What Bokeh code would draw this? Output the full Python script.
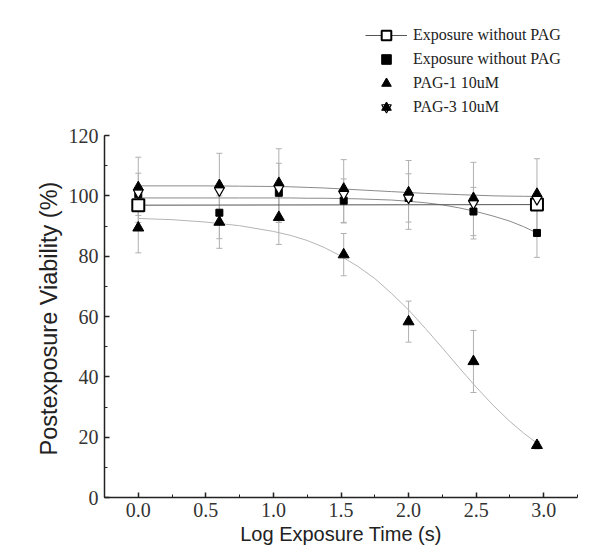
import math
from bokeh.plotting import figure
from bokeh.models import (Range1d, SingleIntervalTicker, PrintfTickFormatter, ColumnDataSource,
                          Whisker, TeeHead, Legend, LegendItem, Title)
from bokeh.embed import file_html
from bokeh.resources import INLINE

# ---- data ----
log_time = [0.0, 0.6, 1.04, 1.52, 2.0, 2.48, 2.95]

open_sq_x = [0.0, 2.95]
open_sq_y = [96.9, 97.1]

sq_y = [100.5, 94.4, 101.0, 98.4, 99.3, 94.8, 87.7]
sq_err = [7.0, 8.6, 9.8, 7.2, 8.0, 8.0, 8.1]

pag1_y = [89.4, 91.3, 92.9, 80.5, 58.3, 45.1, 17.3]
pag1_err = [8.3, 8.7, 9.0, 7.0, 6.8, 10.3, 1.2]

pag3_y = [102.0, 102.7, 103.4, 101.5, 100.3, 98.4, 99.8]
pag3_err = [10.8, 11.4, 12.2, 10.5, 11.4, 12.7, 12.5]

fit_x = [0.0, 0.25, 0.5, 0.75, 1.0, 1.125, 1.25, 1.375, 1.5, 1.625, 1.75, 1.875, 2.0,
         2.125, 2.25, 2.375, 2.5, 2.625, 2.75, 2.85, 2.95]
sq_fit = [99.3, 99.3, 99.3, 99.3, 99.3, 99.3, 99.2, 99.2, 99.1, 99.0, 98.8, 98.6, 98.2,
          97.7, 97.0, 96.0, 94.8, 93.3, 91.6, 89.8, 87.7]
pag1_fit = [92.5, 92.1, 91.3, 90.1, 88.2, 86.9, 85.2, 82.9, 80.0, 76.6, 72.6, 67.6, 62.2,
            56.0, 49.6, 43.0, 36.6, 30.6, 25.2, 21.4, 18.0]
pag3_fit = [103.3, 103.3, 103.3, 103.2, 103.1, 103.0, 102.8, 102.6, 102.3, 102.0, 101.7, 101.4, 101.1,
            100.8, 100.6, 100.4, 100.2, 100.0, 99.9, 99.85, 99.8]

labels = ["Exposure without PAG", "Exposure without PAG", "PAG-1 10uM", "PAG-3 10uM"]
x_title = "Log Exposure Time (s)"
y_title = "Postexposure Viability (%)"
y_axis_max = 120

# ---- figure ----
# the frame extends above the y axis so the legend (drawn inside the frame) is not clipped
AXIS_PX = 362            # pixel length of the 0..120 axis
FW, FH = 473, 477
Y0 = 0
Y1 = y_axis_max * FH / AXIS_PX
p = figure(frame_width=FW, frame_height=FH, x_range=Range1d(-0.25, 3.25), y_range=Range1d(Y0, Y1),
           output_backend="svg", toolbar_location=None,
           min_border_left=104, min_border_right=16, min_border_top=20, min_border_bottom=56)
p.grid.visible = False
p.outline_line_color = None
p.background_fill_color = "white"
p.border_fill_color = "white"

p.xaxis.ticker = SingleIntervalTicker(interval=0.5, num_minor_ticks=2)
p.xaxis.formatter = PrintfTickFormatter(format="%.1f")
p.yaxis.ticker = SingleIntervalTicker(interval=20, num_minor_ticks=2)
p.yaxis.bounds = (0, y_axis_max)
for ax in (p.xaxis, p.yaxis):
    ax.axis_line_color = "#222222"
    ax.axis_line_width = 1.5
    ax.major_tick_line_color = "#222222"
    ax.minor_tick_line_color = "#222222"
    ax.major_tick_line_width = 1.5
    ax.major_tick_in = 5
    ax.major_tick_out = 0
    ax.minor_tick_in = 3
    ax.minor_tick_out = 0
    ax.major_label_text_font = "Liberation Serif"
    ax.major_label_text_font_size = "20px"
    ax.major_label_text_color = "#333333"
    ax.axis_label_text_font = "Liberation Sans"
    ax.axis_label_text_font_style = "normal"
    ax.axis_label_text_color = "#222222"
p.xaxis.axis_label = x_title
p.xaxis.axis_label_text_font_size = "20px"
p.xaxis.major_label_standoff = 5
p.yaxis.major_label_standoff = 6
p.xaxis.axis_label_standoff = 3

# y title: a left-side title, anchored at the bottom of the 0..120 axis
ytitle = Title(text=y_title, align="left", offset=42, vertical_align="bottom", standoff=8,
               text_font="Liberation Sans", text_font_size="23.5px", text_font_style="normal",
               text_color="#222222")
p.add_layout(ytitle, "left")

# ---- error bars ----
def whisk(y, e):
    src = ColumnDataSource(dict(x=log_time, lo=[a - b for a, b in zip(y, e)], hi=[a + b for a, b in zip(y, e)]))
    w = Whisker(source=src, base="x", lower="lo", upper="hi", line_color="#b0b0b0", line_width=1,
                upper_head=TeeHead(size=6, line_color="#b0b0b0", line_width=1),
                lower_head=TeeHead(size=6, line_color="#b0b0b0", line_width=1))
    p.add_layout(w)

whisk(pag3_y, pag3_err)
whisk(sq_y, sq_err)
whisk(pag1_y, pag1_err)

# ---- fitted curves ----
p.line(fit_x, pag3_fit, line_color="#8a8a8a", line_width=1)
p.line(fit_x, sq_fit, line_color="#8a8a8a", line_width=1)
p.line(fit_x, pag1_fit, line_color="#b5b5b5", line_width=1)
open_line = p.line(open_sq_x, open_sq_y, line_color="#555555", line_width=1)

# ---- markers ----
px_per_unit = FH / (Y1 - Y0)
tri_size = 10
off = (tri_size / 2) * math.sqrt(3) / 3 / px_per_unit

open_sq = p.scatter(open_sq_x, open_sq_y, marker="square", size=12, fill_color="white",
                    line_color="black", line_width=2)
sq = p.scatter(log_time, sq_y, marker="square", size=7, fill_color="black", line_color="black")
pag1 = p.scatter(log_time, pag1_y, marker="triangle", size=11, fill_color="black", line_color="black")
pag3_lo = p.scatter(log_time, [v - off for v in pag3_y], marker="inverted_triangle", size=tri_size,
                    fill_color="white", line_color="black", line_width=1.2)
pag3_hi = p.scatter(log_time, [v + off for v in pag3_y], marker="triangle", size=tri_size,
                    fill_color="black", line_color="black")

legend = Legend(items=[
    LegendItem(label=labels[0], renderers=[open_line, open_sq]),
    LegendItem(label=labels[1], renderers=[sq]),
    LegendItem(label=labels[2], renderers=[pag1]),
    LegendItem(label=labels[3], renderers=[pag3_lo, pag3_hi]),
], location=(261, 378), orientation="vertical",
    label_text_font="Liberation Serif", label_text_font_size="16px", label_text_color="#222222",
    glyph_width=42, glyph_height=24, label_height=24, label_standoff=6, spacing=0,
    padding=0, margin=0, border_line_color=None, background_fill_alpha=0)
p.add_layout(legend)

open("out.html", "w").write(file_html(p, INLINE))
